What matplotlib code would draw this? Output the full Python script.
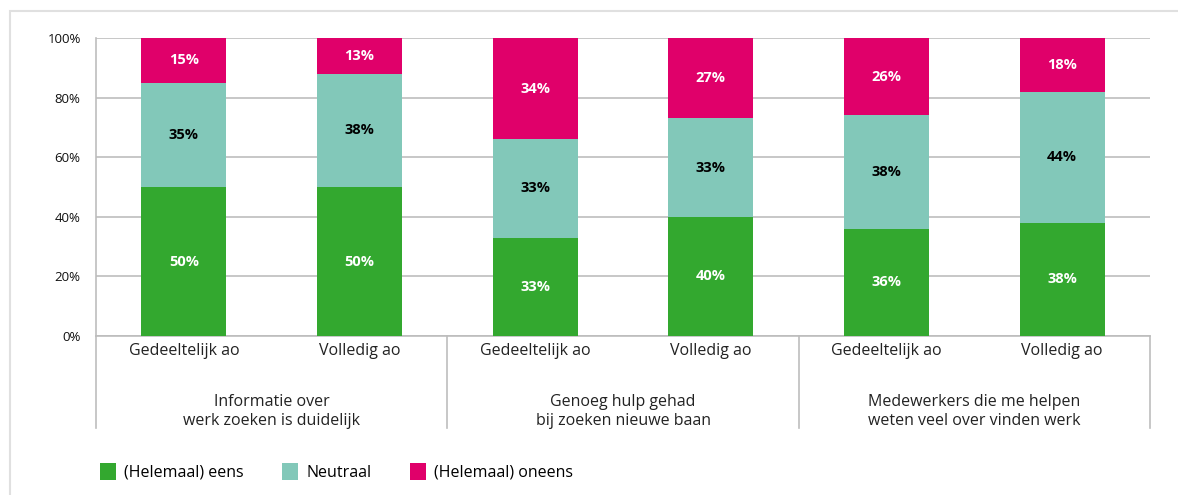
import matplotlib.pyplot as plt
import numpy as np
from matplotlib.patches import Rectangle

plt.rcParams['font.family'] = ['Open Sans', 'DejaVu Sans']

# data
groups = ["Informatie over\nwerk zoeken is duidelijk",
          "Genoeg hulp gehad\nbij zoeken nieuwe baan",
          "Medewerkers die me helpen\nweten veel over vinden werk"]
subcats = ["Gedeeltelijk ao", "Volledig ao"] * 3
eens = [50, 50, 33, 40, 36, 38]
neutraal = [35, 38, 33, 33, 38, 44]
oneens = [15, 13, 34, 27, 26, 18]
series_names = ["(Helemaal) eens", "Neutraal", "(Helemaal) oneens"]
colors = ["#33a82f", "#82c8b9", "#e0006a"]
label_colors = ["white", "black", "white"]

fig = plt.figure(figsize=(11.78, 4.95), dpi=100)
ax = fig.add_axes([96 / 1178, 1 - 336 / 495, (1150 - 96) / 1178, 298 / 495])

# light frame around the chart (cut off at right/bottom)
fig.add_artist(Rectangle((10 / 1178, -0.1), 1.2, 1 - 11 / 495 + 0.1,
                         transform=fig.transFigure, fill=False,
                         edgecolor="#e0e0e0", linewidth=1.5))

x = np.arange(len(subcats)) + 0.5
bottom = np.zeros(len(subcats))
for vals, name, col, lcol in zip([eens, neutraal, oneens], series_names, colors, label_colors):
    vals = np.array(vals, dtype=float)
    top = np.minimum(bottom + vals, 100)
    ax.bar(x, top - bottom, width=0.485, bottom=bottom, color=col, label=name, zorder=3)
    for xi, b, t, v in zip(x, bottom, top, vals):
        ax.text(xi, (b + t) / 2, f"{int(v)}%", ha="center", va="center",
                color=lcol, fontsize=10.5, fontweight="bold", zorder=4)
    bottom = bottom + vals

ax.set_xlim(0, len(subcats))
ax.set_ylim(0, 100)
ax.set_yticks(range(0, 101, 20))
ax.set_yticklabels([f"{v}%" for v in range(0, 101, 20)], fontsize=9.5, color="#111111")
ax.tick_params(axis="y", length=0, pad=11)
ax.set_xticks([])
ax.grid(axis="y", color="#bdbdbd", linewidth=1.2, zorder=0)
for s in ["top", "right"]:
    ax.spines[s].set_visible(False)
ax.spines["left"].set_color("#bdbdbd")
ax.spines["bottom"].set_color("#bdbdbd")
ax.spines["left"].set_linewidth(1.2)
ax.spines["bottom"].set_linewidth(1.2)

# sub category labels
for xi, lab in zip(x, subcats):
    ax.text(xi, -0.05, lab, transform=ax.get_xaxis_transform(), ha="center", va="center",
            fontsize=11.5, color="#222222")

# group labels and separators
for gi, g in enumerate(groups):
    ax.text(2 * gi + 1, -0.253, g, transform=ax.get_xaxis_transform(), ha="center",
            va="center", fontsize=11.5, color="#222222", linespacing=1.3)
for xb in [0, 2, 4, 6]:
    ax.plot([xb, xb], [0, -0.31], transform=ax.get_xaxis_transform(), color="#bdbdbd",
            linewidth=1.2, clip_on=False)

fig.legend(loc="center left", bbox_to_anchor=(86 / 1178, 1 - 472 / 495), ncol=3,
           frameon=False, fontsize=11.5, handlelength=1.0, handleheight=1.2,
           columnspacing=2.4, handletextpad=0.5)

fig.savefig("out.png", dpi=100)
